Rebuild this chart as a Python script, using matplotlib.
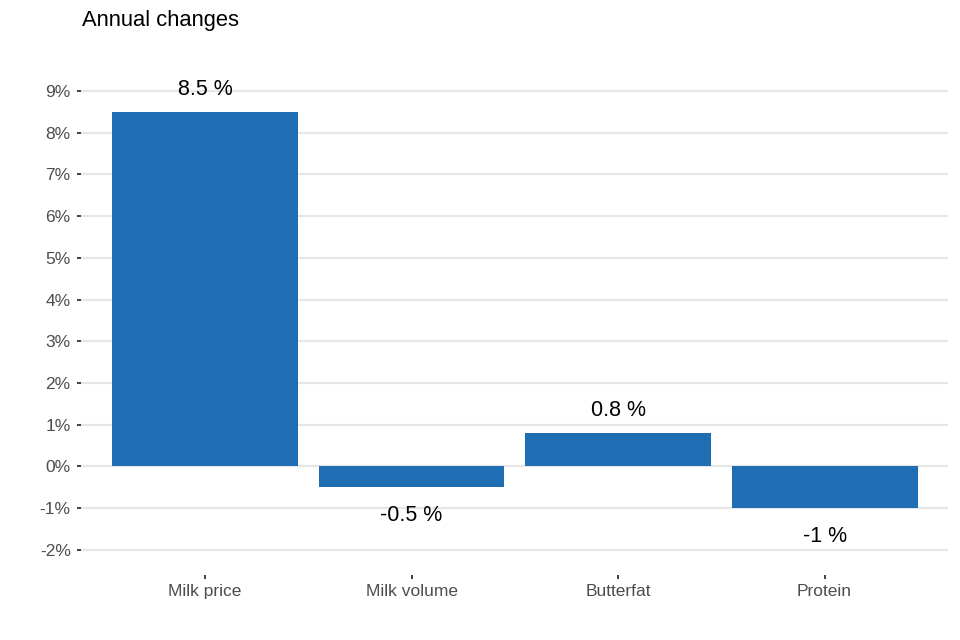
import matplotlib
matplotlib.use("Agg")
import matplotlib.pyplot as plt
from matplotlib.ticker import FuncFormatter

plt.rcParams['font.family'] = ['Liberation Sans', 'DejaVu Sans']

# data
categories = ["Milk price", "Milk volume", "Butterfat", "Protein"]
changes = [8.5, -0.5, 0.8, -1.0]
labels = ["8.5 %", "-0.5 %", "0.8 %", "-1 %"]
y_ticks = list(range(-2, 10))

fig = plt.figure(figsize=(9.6, 6.4), dpi=100)
ax = fig.add_axes([0.0845, 0.102, 0.9035, 0.798])

x = list(range(len(categories)))
ax.bar(x, changes, width=0.9, color="#1f6eb4", zorder=2)

for xi, v, lab in zip(x, changes, labels):
    off = 16.5 if v >= 0 else -20.5
    ax.annotate(lab, (xi, v), xytext=(0, off), textcoords="offset points",
                ha="center", va="center", fontsize=15.5, color="black")

ax.set_xlim(-0.6, 3.6)
ax.set_ylim(-2.6, 9.65)
ax.set_yticks(y_ticks)
ax.yaxis.set_major_formatter(FuncFormatter(lambda v, p: f"{int(v)}%"))
ax.set_xticks(x)
ax.set_xticklabels(categories)

ax.grid(axis="y", color="#e6e6e6", linewidth=1.6, zorder=0)
ax.grid(axis="x", visible=False)
for s in ax.spines.values():
    s.set_visible(False)
ax.tick_params(axis="both", length=3, width=1.3, color="#333333",
               labelcolor="#4d4d4d", labelsize=12.5)
ax.tick_params(axis="y", pad=4.5)
ax.tick_params(axis="x", pad=4)

fig.text(0.085, 0.968, "Annual changes", fontsize=15.8, ha="left", va="center")

fig.savefig("out.png", dpi=100)
